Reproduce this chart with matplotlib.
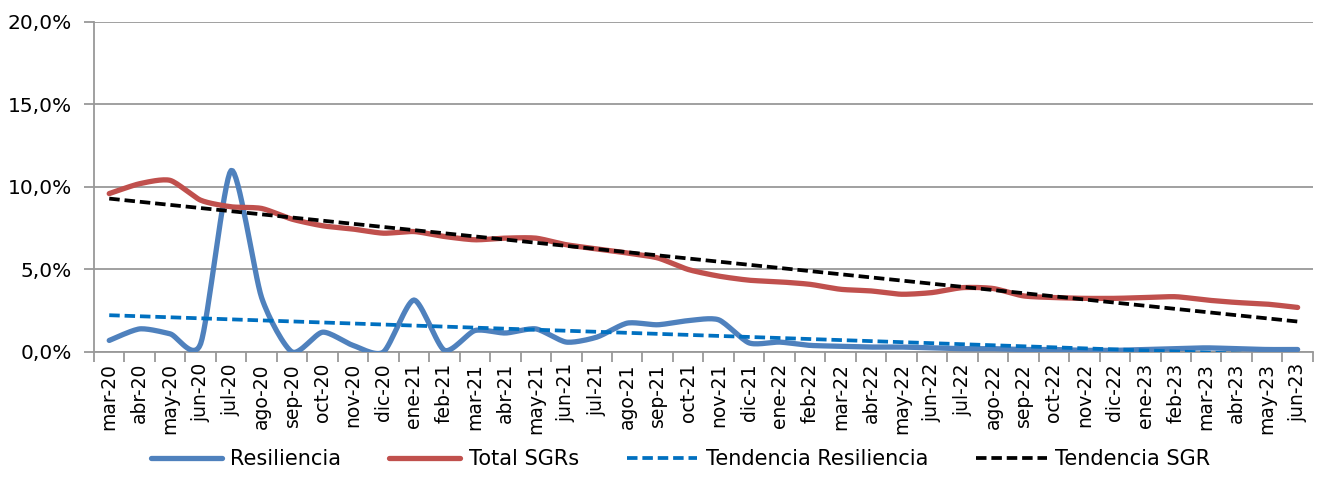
import numpy as np
import matplotlib
matplotlib.use("Agg")
import matplotlib.pyplot as plt
from matplotlib.ticker import FuncFormatter, FixedLocator

months = ["mar-20", "abr-20", "may-20", "jun-20", "jul-20", "ago-20", "sep-20", "oct-20",
          "nov-20", "dic-20", "ene-21", "feb-21", "mar-21", "abr-21", "may-21", "jun-21",
          "jul-21", "ago-21", "sep-21", "oct-21", "nov-21", "dic-21", "ene-22", "feb-22",
          "mar-22", "abr-22", "may-22", "jun-22", "jul-22", "ago-22", "sep-22", "oct-22",
          "nov-22", "dic-22", "ene-23", "feb-23", "mar-23", "abr-23", "may-23", "jun-23"]

resiliencia = [0.7, 1.4, 1.1, 0.5, 11.0, 3.3, 0.0, 1.2, 0.4, 0.0,
               3.15, 0.1, 1.3, 1.15, 1.4, 0.6, 0.9, 1.75, 1.65, 1.9,
               1.95, 0.55, 0.6, 0.4, 0.35, 0.3, 0.3, 0.25, 0.2, 0.2,
               0.15, 0.15, 0.1, 0.1, 0.15, 0.2, 0.25, 0.2, 0.15, 0.15]

total_sgr = [9.6, 10.2, 10.4, 9.2, 8.8, 8.7, 8.05, 7.65, 7.45, 7.2,
             7.3, 7.0, 6.8, 6.9, 6.9, 6.5, 6.25, 6.0, 5.7, 5.0,
             4.6, 4.35, 4.25, 4.1, 3.8, 3.7, 3.5, 3.6, 3.9, 3.85,
             3.4, 3.3, 3.25, 3.25, 3.3, 3.35, 3.15, 3.0, 2.9, 2.7]


def smooth(y, n=16, c=0.7):
    # cardinal spline, close to Excel's "smoothed line"
    y = np.asarray(y, dtype=float)
    x = np.arange(len(y), dtype=float)
    P = np.column_stack([x, y])
    P = np.vstack([P[0], P, P[-1]])
    t = np.linspace(0, 1, n, endpoint=False)[:, None]
    h00 = 2 * t**3 - 3 * t**2 + 1
    h10 = t**3 - 2 * t**2 + t
    h01 = -2 * t**3 + 3 * t**2
    h11 = t**3 - t**2
    out = []
    for i in range(1, len(P) - 2):
        p0, p1, p2, p3 = P[i - 1], P[i], P[i + 1], P[i + 2]
        m1 = c * (p2 - p0) / 2
        m2 = c * (p3 - p1) / 2
        out.append(h00 * p1 + h10 * m1 + h01 * p2 + h11 * m2)
    out.append(P[-2][None, :])
    out = np.vstack(out)
    return out[:, 0], out[:, 1]


x = np.arange(len(months))
fit_res = np.poly1d(np.polyfit(x, resiliencia, 1))
fit_sgr = np.poly1d(np.polyfit(x, total_sgr, 1))

plt.rcParams["font.family"] = ["DejaVu Sans"]
fig = plt.figure(figsize=(13.22, 4.95), dpi=100)
ax = fig.add_axes([0.0711, 0.2889, 0.922, 0.6667])

xs, ys = smooth(resiliencia)
ax.plot(xs, ys, color="#4F81BD", lw=3.8, label="Resiliencia", solid_capstyle="round", zorder=3)
xs, ys = smooth(total_sgr)
ax.plot(xs, ys, color="#C0504D", lw=3.8, label="Total SGRs", solid_capstyle="round", zorder=3)
ax.plot(x, fit_res(x), color="#0070C0", lw=2.7, ls=(0, (2.8, 1.3)), label="Tendencia Resiliencia", zorder=4)
ax.plot(x, fit_sgr(x), color="black", lw=2.7, ls=(0, (2.8, 1.3)), label="Tendencia SGR", zorder=4)

ax.set_xlim(-0.5, len(months) - 0.5)
ax.set_ylim(0, 20)
ax.set_yticks([0, 5, 10, 15, 20])
ax.yaxis.set_major_formatter(FuncFormatter(lambda v, p: ("%.1f%%" % v).replace(".", ",")))
ax.grid(axis="y", color="#999999", lw=1.3)
ax.set_axisbelow(True)

ax.set_xticks(x)
ax.set_xticklabels(months, rotation=90, fontsize=13.5)
ax.tick_params(axis="x", which="major", length=0, pad=8)
ax.xaxis.set_minor_locator(FixedLocator(np.arange(-0.5, len(months), 1)))
ax.tick_params(axis="x", which="minor", length=7, color="#999999", width=1.3)
ax.tick_params(axis="y", labelsize=14.5, length=7, color="#999999", width=1.3, pad=9)

for s in ["top", "right"]:
    ax.spines[s].set_visible(False)
for s in ["left", "bottom"]:
    ax.spines[s].set_color("#999999")
    ax.spines[s].set_linewidth(1.3)

fig.legend(loc="center", bbox_to_anchor=(0.515, 0.072), ncol=4, frameon=False,
           fontsize=15, handlelength=3.4, handletextpad=0.4, columnspacing=2.3)

fig.savefig("out.png", dpi=100)
